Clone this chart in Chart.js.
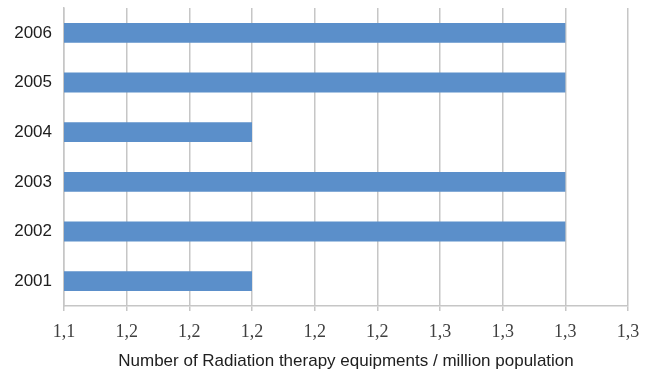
<!DOCTYPE html>
<html><head><meta charset="utf-8">
<script src="https://cdn.jsdelivr.net/npm/chart.js@4/dist/chart.umd.min.js"></script>
<style>html,body{margin:0;padding:0;background:#fff}#wrap{width:646px;height:370px}</style>
</head><body><div id="wrap"><canvas id="c" width="646" height="370"></canvas></div>
<script>
const categories = ['2006','2005','2004','2003','2002','2001'];
const values = [1.3, 1.3, 1.2, 1.3, 1.3, 1.2];
const tickLabels = ['1,1','1,2','1,2','1,2','1,2','1,2','1,3','1,3','1,3','1,3'];
const axisTitle = 'Number of Radiation therapy equipments / million population';

new Chart(document.getElementById('c'), {
  type: 'bar',
  data: { labels: categories, datasets: [{ data: values, backgroundColor: '#5B8FCA', borderWidth: 0, barPercentage: 0.8, categoryPercentage: 0.5 }] },
  options: {
    indexAxis: 'y', responsive: false, animation: false,
    layout: { padding: 0 },
    plugins: { legend: { display: false }, tooltip: { enabled: false } },
    scales: {
      x: {
        min: 1.14, max: 1.32,
        ticks: { stepSize: 0.02, color: '#404040', padding: 10,
          font: { family: 'Liberation Serif', size: 18 },
          callback: (v, i) => tickLabels[i] },
        grid: { color: '#C6C6C6', lineWidth: 1.5, tickLength: 5 },
        border: { color: '#C6C6C6', width: 1.5 },
        title: { display: true, text: axisTitle, color: '#202020',
          font: { family: 'Liberation Sans', size: 17 }, padding: { top: 2, bottom: -2 } },
        afterFit: s => { s.height = 64; s.paddingLeft = 0; s.paddingRight = 18; }
      },
      y: {
        ticks: { color: '#202020', padding: 12, font: { family: 'Liberation Sans', size: 17 } },
        grid: { display: false, drawTicks: false, tickLength: 0 },
        border: { color: '#C6C6C6', width: 1.5 },
        afterFit: s => { s.width = 64; s.paddingTop = 8; s.paddingBottom = 0; }
      }
    }
  }
});
</script></body></html>
